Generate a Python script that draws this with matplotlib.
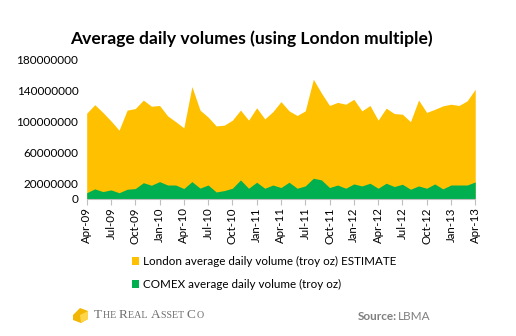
import matplotlib.pyplot as plt
from matplotlib.patches import Polygon
import pandas as pd

# monthly averages, Apr-09 .. Apr-13 (troy oz)
months = pd.date_range("2009-04-01", "2013-04-01", freq="MS")

london = [
    111, 122, 112, 101, 89, 115, 117, 128, 120, 121, 107.5, 100,
    92, 145.5, 115, 106, 94.5, 95.5, 102, 115, 102, 118, 103.6, 113,
    126, 114, 108, 114, 155, 137, 121, 125, 122.6, 129, 114, 121,
    102, 117.5, 110.5, 109.7, 100, 128, 112, 116, 120.5, 122.6, 121, 127,
    142,
]
comex = [
    8, 13, 9.5, 11.7, 8, 12.5, 13.4, 21, 17.7, 22.4, 18, 18,
    13.4, 22.4, 14, 18, 9, 10.8, 13.8, 24.6, 13.8, 21.6, 13.8, 18,
    14.7, 21.6, 13.8, 16.8, 26.8, 24.6, 14.7, 18, 13.8, 19.4, 16.8, 20.3,
    13.8, 20.3, 16, 19, 12.5, 16.8, 13.8, 19.4, 13, 18, 18, 18,
    22,
]
london = [v * 1e6 for v in london]
comex = [v * 1e6 for v in comex]

ytick_vals = [0, 20000000, 60000000, 100000000, 140000000, 180000000]
tick_months = months[::3]
tick_labels = [d.strftime("%b-%y") for d in tick_months]

plt.rcParams["font.family"] = ["Lato", "DejaVu Sans"]

fig = plt.figure(figsize=(5.16, 3.36), dpi=100)
ax = fig.add_axes([0.168, 0.408, 0.753, 0.4137])

x = list(range(len(months)))
ax.fill_between(x, 0, london, color="#FFC000", linewidth=0,
                label="London average daily volume (troy oz) ESTIMATE")
ax.fill_between(x, 0, comex, color="#00B050", linewidth=0,
                label="COMEX average daily volume (troy oz)")

ax.set_xlim(0, len(months) - 1)
ax.set_ylim(0, 180000000)
ax.set_yticks(ytick_vals)
ax.set_yticklabels([str(v) for v in ytick_vals], fontsize=8.5)
ax.set_xticks(x[::3])
ax.set_xticklabels(tick_labels, rotation=90, fontsize=8.3)

for s in ["top", "right", "left"]:
    ax.spines[s].set_visible(False)
ax.spines["bottom"].set_color("#BFBFBF")
ax.tick_params(axis="y", length=0, pad=6)
ax.tick_params(axis="x", length=4, color="#BFBFBF", pad=2)

fig.text(0.487, 0.886, "Average daily volumes (using London multiple)",
         ha="center", va="center", fontsize=12.6, fontweight="bold")

handles, labels = ax.get_legend_handles_labels()
fig.legend(handles, labels, loc="upper left", bbox_to_anchor=(0.255, 0.238),
           frameon=False, fontsize=8.4, handlelength=0.65, handleheight=0.65,
           handletextpad=0.35, labelspacing=1.05, borderpad=0, borderaxespad=0)

# logo
W, H = 516.0, 336.0
def fp(px, py):
    return (px / W, 1 - py / H)

cube = [fp(73, 315), fp(80, 308), fp(88, 311), fp(88, 319), fp(81, 323), fp(73, 320)]
fig.patches.append(Polygon(cube, closed=True, transform=fig.transFigure,
                           facecolor="#F2B705", edgecolor="none"))
fig.patches.append(Polygon([fp(80, 315), fp(88, 311), fp(88, 319), fp(81, 323)],
                           closed=True, transform=fig.transFigure,
                           facecolor="#FFD54A", edgecolor="none"))

# small-caps wordmark, drawn piece by piece
pieces = [("T", 9.5), ("HE ", 7.2), ("R", 9.5), ("EAL ", 7.2),
          ("A", 9.5), ("SSET ", 7.2), ("C", 9.5), ("O", 7.2)]
renderer = fig.canvas.get_renderer()
xpos = 94.0
for txt, size in pieces:
    t = fig.text(xpos / W, 1 - 318.5 / H, txt, ha="left", va="baseline",
                 fontsize=size, color="#6E6E6E", family="Liberation Serif")
    bb = t.get_window_extent(renderer=renderer)
    xpos += bb.width + 0.6

fig.text(358 / W, 1 - 316 / H, "Source:", ha="left", va="center",
         fontsize=8.5, color="#7F7F7F", fontweight="bold")
fig.text(398 / W, 1 - 316 / H, "LBMA", ha="left", va="center",
         fontsize=8.5, color="#7F7F7F")

fig.savefig("out.png", dpi=100)
